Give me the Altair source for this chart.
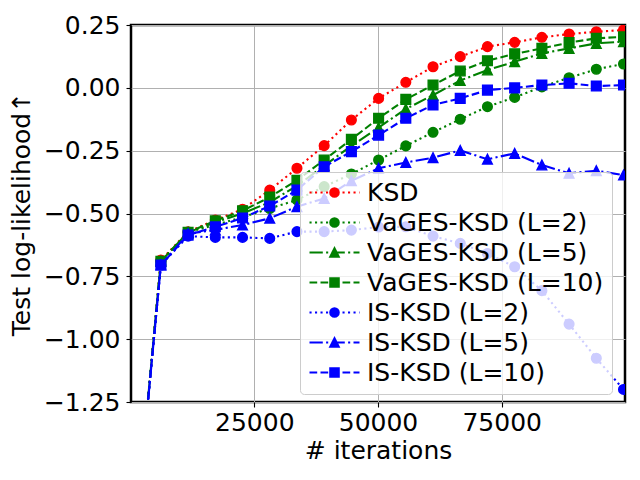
import altair as alt
import pandas as pd

# ---------------- data ----------------
iterations = [620, 6120, 11620, 17120, 22620, 28120, 33620, 39120, 44620, 50120,
              55620, 61120, 66620, 72120, 77620, 83120, 88620, 94120, 99620]

ksd = [-1.85, -0.685, -0.573, -0.526, -0.483, -0.407, -0.320, -0.230, -0.128, -0.042,
       0.022, 0.084, 0.124, 0.164, 0.181, 0.201, 0.214, 0.223, 0.230]
vages_l2 = [-1.85, -0.690, -0.575, -0.545, -0.515, -0.480, -0.446, -0.393, -0.343, -0.287,
            -0.231, -0.177, -0.125, -0.075, -0.038, 0.004, 0.040, 0.074, 0.095]
vages_l5 = [-1.85, -0.690, -0.575, -0.535, -0.500, -0.455, -0.390, -0.310, -0.231, -0.158,
            -0.084, -0.029, 0.029, 0.071, 0.104, 0.137, 0.157, 0.177, 0.184]
vages_l10 = [-1.85, -0.690, -0.575, -0.529, -0.489, -0.435, -0.368, -0.287, -0.205, -0.121,
             -0.046, 0.011, 0.067, 0.108, 0.135, 0.157, 0.180, 0.197, 0.203]
is_l2 = [-1.85, -0.705, -0.590, -0.595, -0.595, -0.599, -0.572, -0.572, -0.566, -0.554,
         -0.553, -0.590, -0.619, -0.659, -0.712, -0.807, -0.940, -1.076, -1.200]
is_l5 = [-1.85, -0.705, -0.580, -0.565, -0.546, -0.519, -0.473, -0.440, -0.370, -0.320,
         -0.297, -0.278, -0.249, -0.284, -0.261, -0.307, -0.340, -0.330, -0.347]
is_l10 = [-1.85, -0.705, -0.586, -0.553, -0.518, -0.470, -0.407, -0.314, -0.254, -0.188,
          -0.121, -0.068, -0.042, -0.009, 0.000, 0.011, 0.018, 0.007, 0.011]

series_names = ["KSD", "VaGES-KSD (L=2)", "VaGES-KSD (L=5)", "VaGES-KSD (L=10)",
                "IS-KSD (L=2)", "IS-KSD (L=5)", "IS-KSD (L=10)"]
series_values = [ksd, vages_l2, vages_l5, vages_l10, is_l2, is_l5, is_l10]

x_ticks = [25000, 50000, 75000]
y_ticks = [-1.25, -1.0, -0.75, -0.5, -0.25, 0.0, 0.25]

# ---------------- styles ----------------
RED, GREEN, BLUE = "#ff0000", "#008000", "#0000ff"
series_colors = [RED, GREEN, GREEN, GREEN, BLUE, BLUE, BLUE]
DOT = [2.1, 3.4]
DASH = [7.7, 3.3]
DASHDOT = [13.3, 3.3, 2.1, 3.3]
series_dash = [DOT, DOT, DASHDOT, DASH, DOT, DASHDOT, DASH]
series_marker = ["circle", "circle", "triangle", "square", "circle", "triangle", "square"]

TRI_PATH = "M0,-1L1,1L-1,1Z"
plot_shape = {"circle": "circle", "square": "square", "triangle": TRI_PATH}

FONT = "DejaVu Sans"
FS = 25

# legend symbols: line with dash pattern + marker, as custom SVG paths
LEG_SIZE = 121
U = (LEG_SIZE ** 0.5) / 2.0  # px per path unit
HALF = 25.0


def legend_path(dash, marker):
    segs = []
    x = -HALF
    i = 0
    while x < HALF - 1e-9:
        seg_len = dash[i % len(dash)]
        end = min(x + seg_len, HALF)
        if (i % len(dash)) % 2 == 0:
            segs.append(f"M{x / U:.3f},0H{end / U:.3f}")
        x = end
        i += 1
    r = 0.78
    if marker == "circle":
        m = f"M{-r},0A{r},{r} 0 1,1 {r},0A{r},{r} 0 1,1 {-r},0Z"
    elif marker == "square":
        m = f"M{-r},{-r}H{r}V{r}H{-r}Z"
    else:
        m = f"M0,{-r}L{r},{r}L{-r},{r}Z"
    return "".join(segs) + m


legend_paths = [legend_path(d, m) for d, m in zip(series_dash, series_marker)]

x_scale = alt.Scale(domain=[80, 99920], nice=False, zero=False)
y_scale = alt.Scale(domain=[-1.25, 0.25], nice=False, zero=False)

x_axis = alt.Axis(values=x_ticks, format="d", title="# iterations",
                  grid=True, gridColor="#b0b0b0", gridWidth=1,
                  domain=False, ticks=True, tickColor="black", tickSize=5, tickWidth=1.1,
                  labelFont=FONT, labelFontSize=FS, labelColor="black", labelPadding=3,
                  labelFlush=False, labelOverlap=False,
                  titleFont=FONT, titleFontSize=FS, titleFontWeight="normal",
                  titleColor="black", titlePadding=3)
y_axis = alt.Axis(values=y_ticks, format=".2f", title="Test log-likelihood↑",
                  labelExpr="replace(datum.label, '-', '−')",
                  grid=True, gridColor="#b0b0b0", gridWidth=1,
                  domain=False, ticks=True, tickColor="black", tickSize=5, tickWidth=1.1,
                  labelFont=FONT, labelFontSize=FS, labelColor="black", labelPadding=6,
                  labelFlush=False, labelOverlap=False,
                  titleFont=FONT, titleFontSize=FS, titleFontWeight="normal",
                  titleColor="black", titlePadding=9)

X = alt.X("iteration:Q", scale=x_scale, axis=x_axis)
Y = alt.Y("value:Q", scale=y_scale, axis=y_axis)

layers = []
long_rows = []
for name, vals, col, dsh, mk in zip(series_names, series_values, series_colors,
                                     series_dash, series_marker):
    df = pd.DataFrame({"iteration": iterations, "value": vals, "series": name})
    long_rows.append(df)
    base = alt.Chart(df)
    layers.append(base.mark_line(color=col, strokeDash=dsh, strokeWidth=2.1,
                                 clip=True).encode(x=X, y=Y))
    layers.append(base.mark_point(shape=plot_shape[mk], size=94, filled=True, fill=col,
                                  stroke=col, strokeWidth=1.4, opacity=1,
                                  clip=True).encode(x=X, y=Y))

long_df = pd.concat(long_rows, ignore_index=True)
leg = alt.Legend(title=None)
ghost = alt.Chart(long_df).transform_filter("false").mark_point(
    filled=True, opacity=1, strokeWidth=2, size=LEG_SIZE
).encode(
    x=X, y=Y,
    fill=alt.Fill("series:N", scale=alt.Scale(domain=series_names, range=series_colors), legend=leg),
    stroke=alt.Stroke("series:N", scale=alt.Scale(domain=series_names, range=series_colors), legend=leg),
    shape=alt.Shape("series:N", scale=alt.Scale(domain=series_names, range=legend_paths), legend=leg),
)

chart = alt.layer(*layers, ghost).properties(
    width=494, height=377,
    autosize=alt.AutoSizeParams(type="none"),
    padding={"left": 123, "top": 17, "right": 7, "bottom": 75},
).configure_view(
    stroke="black", strokeWidth=2.5
).configure_legend(
    orient="none", legendX=169, legendY=147, padding=8,
    fillColor="rgba(255,255,255,0.8)", strokeColor="#cccccc", cornerRadius=4,
    labelFont=FONT, labelFontSize=FS, labelColor="black", labelLimit=600,
    symbolSize=LEG_SIZE, symbolStrokeWidth=2, symbolOpacity=1,
    symbolOffset=14, labelOffset=20, rowPadding=4,
)

chart.save("out.html", embed_options={"renderer": "svg", "actions": False})
